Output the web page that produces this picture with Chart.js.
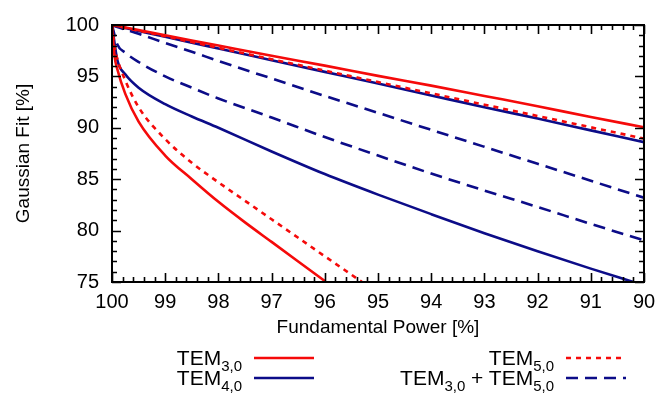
<!DOCTYPE html>
<html>
<head>
<meta charset="utf-8">
<script src="https://cdn.jsdelivr.net/npm/chart.js@4/dist/chart.umd.min.js"></script>
<style>
  body { margin: 0; background: #fff; }
  #wrap { position: relative; width: 672px; height: 419px; }
  #legend { position: absolute; left: 0; top: 0; width: 672px; height: 419px; pointer-events: none;
            font-family: "Liberation Sans", Arial, sans-serif; font-size: 21px; color: #000; }
  .item { position: absolute; display: flex; align-items: center; white-space: nowrap; }
  .item sub { font-size: 15px; vertical-align: -6px; line-height: 0; }
  .item svg { margin-left: 12px; }
</style>
</head>
<body>
<div id="wrap">
  <canvas id="chart" width="672" height="419"></canvas>
  <div id="legend"></div>
</div>
<script>
// fundamental power [%] (x) and gaussian fit [%] (y)
var powerCommon = [100, 99.9, 99.75, 99.5, 99, 98.5, 98, 97, 96, 95, 94, 93, 92, 91, 90];
var powerTem40Low = [100, 99.9, 99.75, 99.5, 99, 98.5, 98, 97, 96, 95, 94, 93, 92, 91, 90.2];
var powerTem30Low = [100, 99.95, 99.9, 99.75, 99.5, 99, 98.5, 98, 97.5, 97, 96.5, 96];
var powerTem50Low = [100, 99.95, 99.9, 99.75, 99.5, 99, 98.5, 98, 97.5, 97, 96.5, 96, 95.3];

var tem30High = [100, 99.9, 99.75, 99.5, 99, 98.5, 98, 97, 96.05, 95.05, 94.1, 93.1, 92.1, 91.05, 90.05];
var tem30Low = [100, 96.9, 95.7, 93.3, 90.6, 87.3, 85.0, 82.8, 80.8, 78.9, 77.0, 75.1];
var tem40High = [100, 99.88, 99.7, 99.42, 98.86, 98.28, 97.72, 96.58, 95.44, 94.3, 93.15, 92.0, 90.9, 89.75, 88.6];
var tem40Low = [100, 96.6, 95.2, 93.9, 92.3, 91.1, 90.0, 87.7, 85.5, 83.5, 81.6, 79.75, 78.0, 76.3, 75.0];
var tem50High = [100, 99.89, 99.72, 99.45, 98.9, 98.34, 97.78, 96.67, 95.56, 94.45, 93.35, 92.25, 91.15, 90.05, 88.95];
var tem50Low = [100, 97.8, 96.7, 94.6, 92.0, 88.9, 86.6, 84.7, 82.9, 81.1, 79.3, 77.5, 75.0];
var tem3050High = [100, 99.8, 99.55, 99.15, 98.25, 97.4, 96.5, 94.8, 93.1, 91.45, 89.8, 88.15, 86.5, 84.85, 83.2];
var tem3050Low = [100, 98.1, 97.3, 96.4, 95.0, 93.9, 92.85, 91.0, 89.1, 87.3, 85.55, 83.9, 82.3, 80.65, 79.05];

var xTicks = [100, 99, 98, 97, 96, 95, 94, 93, 92, 91, 90];
var yTicks = [75, 80, 85, 90, 95, 100];

var RED = '#f50a0a';
var BLUE = '#0c0c88';

function pts(xs, ys) {
    var out = [];
    for (var i = 0; i < xs.length; i++) {
        out.push({x: xs[i], y: ys[i]});
    }
    return out;
}

function line(data, color, dash) {
    return {
        data: data,
        borderColor: color,
        borderWidth: 2.6,
        borderDash: dash || [],
        pointRadius: 0,
        fill: false,
        cubicInterpolationMode: 'monotone'
    };
}

// frame plus inward ticks on all four sides
var frameTicks = {
    id: 'frameTicks',
    afterDraw: function (chart) {
        var ctx = chart.ctx, a = chart.chartArea;
        var x = chart.scales.x, y = chart.scales.y;
        ctx.save();
        ctx.strokeStyle = '#000';
        ctx.lineWidth = 1.6;
        ctx.beginPath();
        for (var i = 0; i <= 50; i++) {
            var px = Math.round(x.getPixelForValue(90 + i * 0.2)) + 0.5;
            var len = i % 5 === 0 ? 9 : 5;
            ctx.moveTo(px, a.bottom); ctx.lineTo(px, a.bottom - len);
            ctx.moveTo(px, a.top); ctx.lineTo(px, a.top + len);
        }
        for (var j = 0; j <= 25; j++) {
            var py = Math.round(y.getPixelForValue(75 + j)) + 0.5;
            var l2 = j % 5 === 0 ? 9 : 5;
            ctx.moveTo(a.left, py); ctx.lineTo(a.left + l2, py);
            ctx.moveTo(a.right, py); ctx.lineTo(a.right - l2, py);
        }
        ctx.stroke();
        ctx.lineWidth = 2;
        ctx.strokeRect(a.left, a.top, a.right - a.left, a.bottom - a.top);
        ctx.restore();
    }
};

var tickFont = {family: '"Liberation Sans", Arial, sans-serif', size: 20};
var titleFont = {family: '"Liberation Sans", Arial, sans-serif', size: 19};

var ctx = document.getElementById('chart').getContext('2d');
new Chart(ctx, {
    type: 'line',
    data: {
        datasets: [
            line(pts(powerCommon, tem30High), RED),
            line(pts(powerTem30Low, tem30Low), RED),
            line(pts(powerCommon, tem50High), RED, [5, 5]),
            line(pts(powerTem50Low, tem50Low), RED, [5, 5]),
            line(pts(powerCommon, tem40High), BLUE),
            line(pts(powerTem40Low, tem40Low), BLUE),
            line(pts(powerCommon, tem3050High), BLUE, [12, 7]),
            line(pts(powerCommon, tem3050Low), BLUE, [12, 7])
        ]
    },
    options: {
        responsive: false,
        animation: false,
        layout: {padding: {left: 0, right: 28, top: 15, bottom: 77}},
        plugins: {legend: {display: false}, tooltip: {enabled: false}},
        scales: {
            x: {
                type: 'linear', reverse: true, min: 90, max: 100,
                afterFit: function (s) { s.height = 60; },
                afterBuildTicks: function (s) { s.ticks = xTicks.map(function (v) { return {value: v}; }); },
                grid: {display: false, drawTicks: false},
                border: {display: false},
                ticks: {font: tickFont, color: '#000', padding: 8, autoSkip: false, maxRotation: 0},
                title: {display: true, text: 'Fundamental Power [%]', font: titleFont, color: '#000', padding: {top: 0, bottom: 3}}
            },
            y: {
                type: 'linear', min: 75, max: 100,
                afterFit: function (s) { s.width = 112; },
                afterBuildTicks: function (s) { s.ticks = yTicks.map(function (v) { return {value: v}; }); },
                grid: {display: false, drawTicks: false},
                border: {display: false},
                ticks: {font: tickFont, color: '#000', padding: 13},
                title: {display: true, text: 'Gaussian Fit [%]', font: titleFont, color: '#000', padding: {top: 12, bottom: 0}}
            }
        }
    },
    plugins: [frameTicks]
});

// legend with subscripts, drawn as html text
var legendItems = [
    {html: 'TEM<sub>3,0</sub>', color: RED, dash: '', textRight: 242, mid: 358},
    {html: 'TEM<sub>4,0</sub>', color: BLUE, dash: '', textRight: 242, mid: 378},
    {html: 'TEM<sub>5,0</sub>', color: RED, dash: '5,5', textRight: 554, mid: 358},
    {html: 'TEM<sub>3,0</sub> + TEM<sub>5,0</sub>', color: BLUE, dash: '12,7', textRight: 554, mid: 378}
];
var legend = document.getElementById('legend');
legendItems.forEach(function (it) {
    var d = document.createElement('div');
    d.className = 'item';
    d.style.right = (672 - it.textRight - 72) + 'px';
    d.style.top = (it.mid - 12) + 'px';
    d.style.height = '24px';
    d.innerHTML = '<span>' + it.html + '</span>' +
        '<svg width="60" height="6"><line x1="0" y1="3" x2="60" y2="3" stroke="' + it.color +
        '" stroke-width="2.6" stroke-dasharray="' + it.dash + '"/></svg>';
    legend.appendChild(d);
});
</script>
</body>
</html>
